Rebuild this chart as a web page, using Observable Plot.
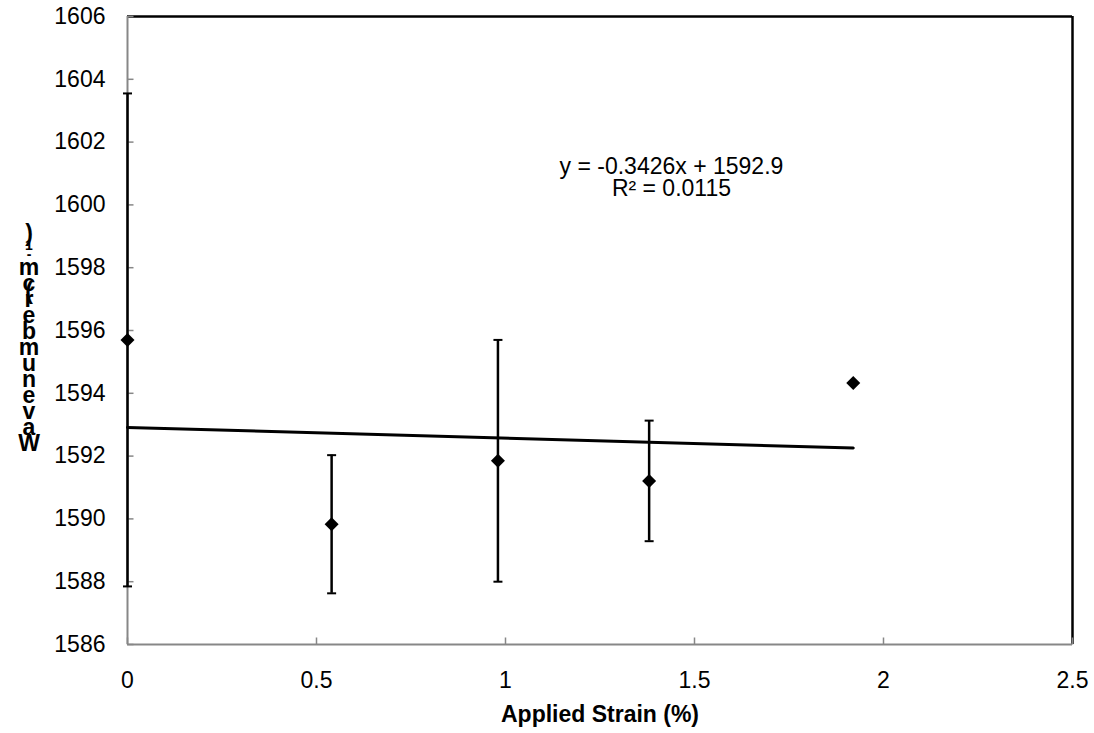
<!DOCTYPE html>
<html><head><meta charset="utf-8">
<script src="https://cdn.jsdelivr.net/npm/d3@7"></script>
<script src="https://cdn.jsdelivr.net/npm/@observablehq/plot@0.6"></script>
<style>
body{margin:0;background:#fff;}
#wrap{position:relative;width:1094px;height:733px;font-family:"Liberation Sans",Arial,sans-serif;}
#ylabel{position:absolute;left:14px;top:211px;width:30px;height:240px;display:flex;flex-direction:column-reverse;align-items:center;font-weight:bold;font-size:23px;color:#000;}
#ylabel span{display:block;height:16px;line-height:16px;}
#ylabel span.gap{height:0;line-height:0;}
#ylabel span.small{font-size:14px;height:9px;line-height:9px;}
</style></head><body><div id="wrap"><div id="ylabel"></div></div>
<script>
// Data
const strain = [0, 0.54, 0.98, 1.38, 1.92];
const wavenumber = [1595.7, 1589.83, 1591.85, 1591.21, 1594.33];
const errorBar = [7.85, 2.2, 3.85, 1.92, 0];
const xTicks = [0, 0.5, 1, 1.5, 2, 2.5];
const yTicks = [1586, 1588, 1590, 1592, 1594, 1596, 1598, 1600, 1602, 1604, 1606];
const xLabel = "Applied Strain (%)";
const yLabel = "Wavenumber (cm-1)";
const slope = -0.3426, intercept = 1592.9, r2 = 0.0115;
const eqPos = {x: 1.439, y: 1600.85};

const data = strain.map((x, i) => ({x, y: wavenumber[i], e: errorBar[i]}));
const errs = data.filter(d => d.e > 0);
const eqText = `y = ${slope}x + ${intercept}\nR² = ${r2}`;

const symTickRight = {draw(c){ c.moveTo(0,0); c.lineTo(6,0); }};
const symTickUp = {draw(c){ c.moveTo(0,0); c.lineTo(0,-7); }};
const symCap = {draw(c){ c.moveTo(-4.5,0); c.lineTo(4.5,0); }};
const gray = "#878787";
const font = '"Liberation Sans", Arial, sans-serif';

const chart = Plot.plot({
  width: 1094, height: 733,
  marginLeft: 127, marginRight: 22, marginTop: 16, marginBottom: 89,
  style: {fontSize: "23px", fontFamily: font, color: "#000", background: "#fff"},
  x: {domain: [0, 2.5], label: null},
  y: {domain: [1586, 1606], label: null},
  marks: [
    Plot.ruleY([1606], {stroke: "#000", strokeWidth: 2.5}),
    Plot.ruleX([2.5], {stroke: "#000", strokeWidth: 2.5}),
    Plot.ruleX([0], {stroke: gray, strokeWidth: 2}),
    Plot.ruleY([1586], {stroke: gray, strokeWidth: 2}),
    Plot.dot(yTicks, {x: () => 0, y: d => d, symbol: symTickRight, stroke: gray, strokeWidth: 1.5, r: 5}),
    Plot.dot(xTicks, {x: d => d, y: () => 1586, symbol: symTickUp, stroke: gray, strokeWidth: 1.5, r: 5}),
    Plot.axisY({ticks: yTicks, tickSize: 0, tickPadding: 22, tickFormat: d => String(d), label: null}),
    Plot.axisX({ticks: xTicks, tickSize: 0, tickPadding: 27, tickFormat: d => String(d), label: null}),
    Plot.linearRegressionY(data, {x: "x", y: "y", ci: 0, stroke: "#000", strokeWidth: 3}),
    Plot.ruleX(errs, {x: "x", y1: d => d.y - d.e, y2: d => d.y + d.e, stroke: "#000", strokeWidth: 2.5}),
    Plot.dot(errs, {x: "x", y: d => d.y - d.e, symbol: symCap, stroke: "#000", strokeWidth: 2, r: 5}),
    Plot.dot(errs, {x: "x", y: d => d.y + d.e, symbol: symCap, stroke: "#000", strokeWidth: 2, r: 5}),
    Plot.dot(data, {x: "x", y: "y", symbol: "diamond2", fill: "#000", r: 6.3}),
    Plot.text([eqText], {x: () => eqPos.x, y: () => eqPos.y, text: d => d, fontSize: 23, lineHeight: 0.96, textAnchor: "middle"}),
    Plot.text([xLabel], {frameAnchor: "bottom", dy: 77, text: d => d, fontWeight: "bold", fontSize: 23})
  ]
});
document.getElementById("wrap").appendChild(chart);

const yl = document.getElementById("ylabel");
for (const ch of yLabel) {
  const s = document.createElement("span");
  s.textContent = ch === " " ? "\u00a0" : ch;
  if (ch === " " || ch === "(") s.className = "gap";
  if (ch === "-" || ch === "1") s.className = "small";
  yl.appendChild(s);
}
</script></body></html>
